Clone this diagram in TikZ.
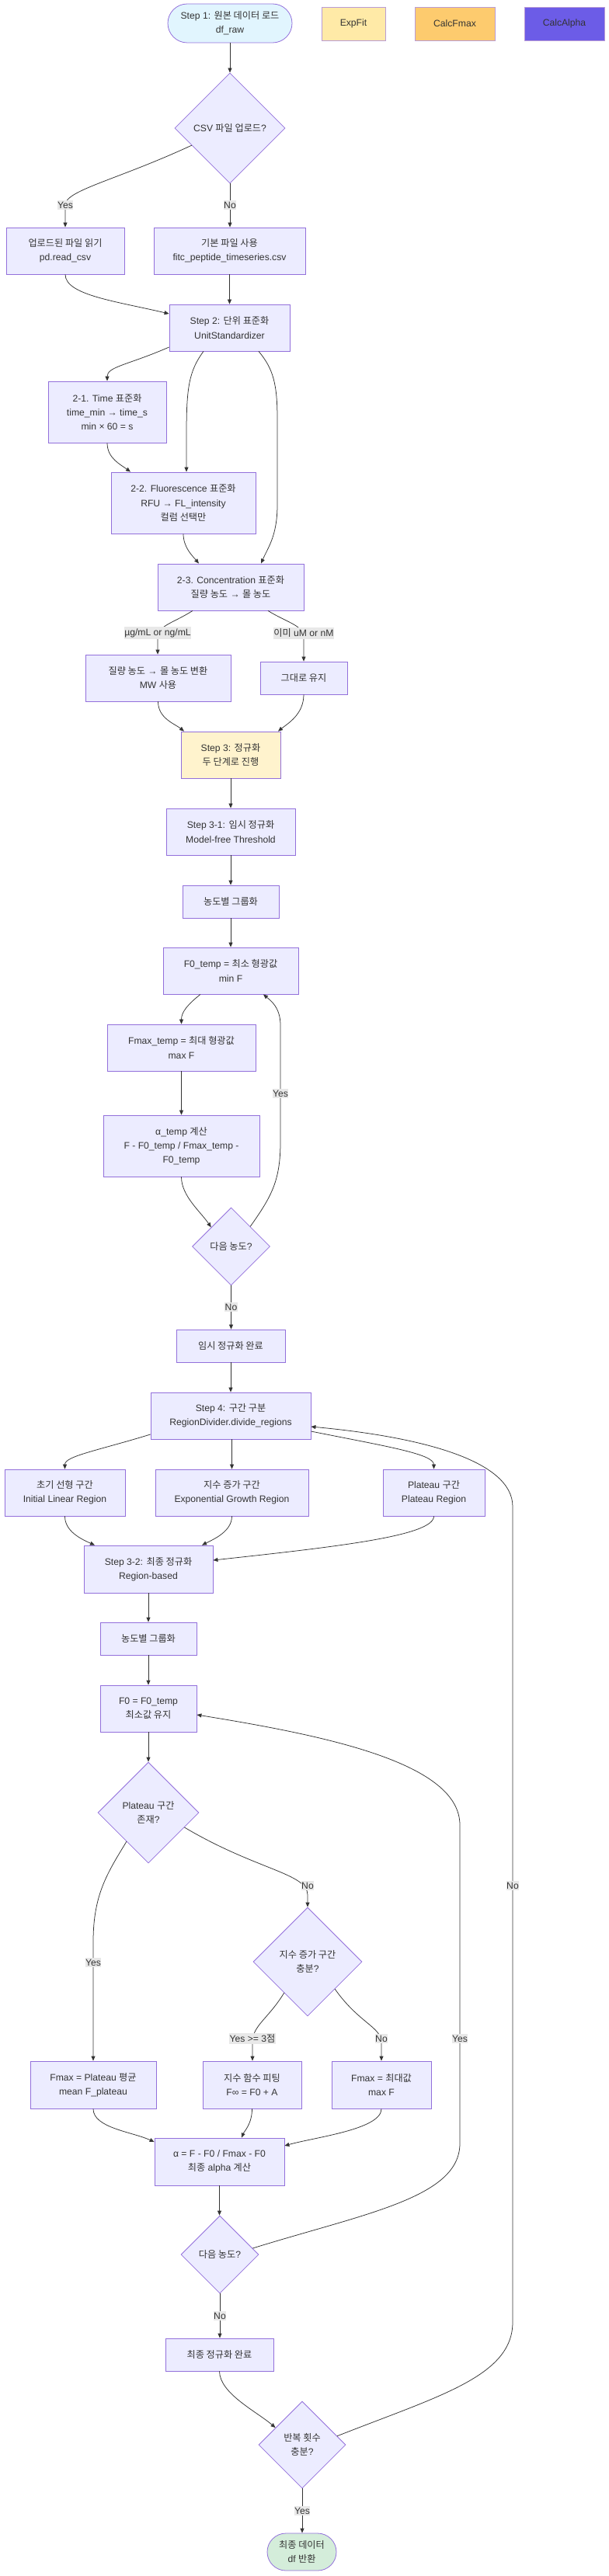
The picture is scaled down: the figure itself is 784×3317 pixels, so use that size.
\documentclass[tikz,border=0pt]{standalone}
\usepackage{fontspec}
\setmainfont{Liberation Sans}
\newfontfamily\kofont{Noto Sans CJK KR}
\newcommand\ko[1]{{\kofont #1}}
\newcommand\nf{\fontsize{12.2}{18.3}\selectfont}
\usetikzlibrary{shapes.geometric,arrows.meta,calc}
\definecolor{nf}{HTML}{ECECFF}
\definecolor{bd}{HTML}{9370DB}
\definecolor{tx}{HTML}{333333}
\definecolor{ln}{HTML}{333333}
\definecolor{lb}{HTML}{E8E8E8}
\definecolor{cstart}{HTML}{E1F5FE}
\definecolor{cend}{HTML}{D4EDDA}
\definecolor{cstepthree}{HTML}{FFF3CD}
\definecolor{cexp}{HTML}{FFEAA7}
\definecolor{cfmax}{HTML}{FDCB6E}
\definecolor{calpha}{HTML}{6C5CE7}
\definecolor{legbd}{HTML}{B99BD6}
\tikzset{
  box/.style={draw=bd, fill=nf, line width=0.8bp, text=tx, align=center, inner sep=0pt, font=\nf},
  dia/.style={diamond, aspect=1, draw=bd, fill=nf, line width=0.8bp, text=tx, align=center, inner sep=0pt, font=\nf},
  legbox/.style={box, draw=legbd, minimum height=43bp},
  edge/.style={draw=ln, line width=0.75bp, -{Triangle[length=6bp,width=5bp]}},
  lbl/.style={fill=lb, text=tx, font=\nf, inner xsep=0.5bp, inner ysep=2bp}
}
\begin{document}
\begin{tikzpicture}[x=1bp,y=1bp]
\useasboundingbox (0,0) rectangle (784,-3317);
% ---------- nodes ----------
\node[box, fill=cstart, rounded corners=25bp, minimum width=160bp, minimum height=50bp] (start) at (296,-30) {Step 1: \ko{원본 데이터 로드}\\df\_raw};
\node[legbox, fill=cexp, minimum width=82bp] (expfit) at (455,-30.5) {ExpFit};
\node[legbox, fill=cfmax, minimum width=103bp] (calcfmax) at (585.5,-30.5) {CalcFmax};
\node[legbox, fill=calpha, minimum width=103bp] (calcalpha) at (726.5,-30.5) {CalcAlpha};
\node[dia, minimum width=142bp, minimum height=142bp] (csv) at (296,-165) {CSV \ko{파일 업로드}?};
\node[box, minimum width=152bp, minimum height=60bp] (upload) at (84,-323) {\ko{업로드된 파일 읽기}\\pd.read\_csv};
\node[box, minimum width=195bp, minimum height=60bp] (default) at (295.5,-323) {\ko{기본 파일 사용}\\fitc\_peptide\_timeseries.csv};
\node[box, minimum width=155bp, minimum height=60bp] (step2) at (295.5,-422) {Step 2: \ko{단위 표준화}\\UnitStandardizer};
\node[box, minimum width=152bp, minimum height=79bp] (t21) at (138,-530.5) {2-1. Time \ko{표준화}\\time\_min → time\_s\\min × 60 = s};
\node[box, minimum width=186bp, minimum height=79bp] (t22) at (236,-647.5) {2-2. Fluorescence \ko{표준화}\\RFU → FL\_intensity\\\ko{컬럼 선택만}};
\node[box, minimum width=188bp, minimum height=60bp] (t23) at (297,-756) {2-3. Concentration \ko{표준화}\\\ko{질량 농도} → \ko{몰 농도}};
\node[box, minimum width=187bp, minimum height=60bp] (mass) at (203.5,-873) {\ko{질량 농도} → \ko{몰 농도 변환}\\MW \ko{사용}};
\node[box, minimum width=112bp, minimum height=42bp] (keep) at (391,-873) {\ko{그대로 유지}};
\node[box, fill=cstepthree, minimum width=128bp, minimum height=60bp] (step3) at (297,-972) {Step 3: \ko{정규화}\\\ko{두 단계로 진행}};
\node[box, minimum width=166bp, minimum height=60bp] (s31) at (297,-1071) {Step 3-1: \ko{임시 정규화}\\Model-free Threshold};
\node[box, minimum width=124bp, minimum height=42bp] (grp1) at (297,-1161) {\ko{농도별 그룹화}};
\node[box, minimum width=174bp, minimum height=60bp] (f0t) at (297,-1250) {F0\_temp = \ko{최소 형광값}\\min F};
\node[box, minimum width=191bp, minimum height=60bp] (fmt) at (233.5,-1349) {Fmax\_temp = \ko{최대 형광값}\\max F};
\node[box, minimum width=201bp, minimum height=79bp] (at) at (233.5,-1475.5) {α\_temp \ko{계산}\\F - F0\_temp / Fmax\_temp -\\F0\_temp};
\node[dia, minimum width=100bp, minimum height=100bp] (nx1) at (297.5,-1605) {\ko{다음 농도}?};
\node[box, minimum width=140bp, minimum height=42bp] (tmpdone) at (297,-1733) {\ko{임시 정규화 완료}};
\node[box, minimum width=206bp, minimum height=60bp] (step4) at (297,-1823) {Step 4: \ko{구간 구분}\\RegionDivider.divide\_regions};
\node[box, minimum width=155bp, minimum height=60bp] (rinit) at (83.5,-1922) {\ko{초기 선형 구간}\\Initial Linear Region};
\node[box, minimum width=197bp, minimum height=60bp] (rexp) at (298.5,-1922) {\ko{지수 증가 구간}\\Exponential Growth Region};
\node[box, minimum width=131bp, minimum height=60bp] (rplat) at (558.5,-1922) {Plateau \ko{구간}\\Plateau Region};
\node[box, minimum width=166bp, minimum height=61bp] (s32) at (191,-2020.5) {Step 3-2: \ko{최종 정규화}\\Region-based};
\node[box, minimum width=124bp, minimum height=42bp] (grp2) at (191,-2110) {\ko{농도별 그룹화}};
\node[box, minimum width=124bp, minimum height=60bp] (f0) at (191,-2200) {F0 = F0\_temp\\\ko{최소값 유지}};
\node[dia, minimum width=130bp, minimum height=130bp] (platq) at (191,-2334) {Plateau \ko{구간}\\\ko{존재}?};
\node[dia, minimum width=140bp, minimum height=140bp] (expq) at (396,-2526) {\ko{지수 증가 구간}\\\ko{충분}?};
\node[box, minimum width=162bp, minimum height=61bp] (fmp) at (120,-2684.5) {Fmax = Plateau \ko{평균}\\mean F\_plateau};
\node[box, minimum width=127bp, minimum height=61bp] (fit) at (324.5,-2684.5) {\ko{지수 함수 피팅}\\F∞ = F0 + A};
\node[box, minimum width=128bp, minimum height=61bp] (fmx) at (491,-2684.5) {Fmax = \ko{최대값}\\max F};
\node[box, minimum width=167bp, minimum height=61bp] (alpha) at (282.5,-2783.5) {α = F - F0 / Fmax - F0\\\ko{최종} alpha \ko{계산}};
\node[dia, minimum width=100bp, minimum height=100bp] (nx2) at (283,-2903) {\ko{다음 농도}?};
\node[box, minimum width=139bp, minimum height=42bp] (fin) at (282.5,-3032) {\ko{최종 정규화 완료}};
\node[dia, minimum width=112bp, minimum height=112bp] (rep) at (389,-3148) {\ko{반복 횟수}\\\ko{충분}?};
\node[box, fill=cend, rounded corners=24bp, minimum width=89bp, minimum height=48bp] (end) at (388.5,-3286) {\ko{최종 데이터}\\df \ko{반환}};
% ---------- points on diamond sides ----------
\coordinate (csvY) at ($(csv.west)!0.31!(csv.south)$);
\coordinate (nxin) at ($(nx1.west)!0.49!(nx1.north)$);
\coordinate (nxyes) at ($(nx1.north)!0.49!(nx1.east)$);
\coordinate (platY) at ($(platq.west)!0.57!(platq.south)$);
\coordinate (platN) at ($(platq.east)!0.29!(platq.south)$);
\coordinate (expY) at ($(expq.west)!0.57!(expq.south)$);
\coordinate (expN) at ($(expq.east)!0.5!(expq.south)$);
\coordinate (nxtwoyes) at ($(nx2.north)!0.84!(nx2.east)$);
\coordinate (repin) at ($(rep.west)!0.39!(rep.north)$);
\coordinate (repno) at ($(rep.north)!0.8!(rep.east)$);
% ---------- edges ----------
\draw[edge] (start.south) -- (csv.north);
\draw[edge] (csvY) .. controls (150,-232) and (84,-245) .. (84,-264) -- (upload.north);
\draw[edge] (csv.south) -- (csv.south |- default.north);
\draw[edge] (upload.south) .. controls (84,-380) and (150,-388) .. ($(step2.west)+(0,18)$);
\draw[edge] (default.south) -- (default.south |- step2.north);
\draw[edge] ($(step2.west)+(0,-25)$) .. controls (165,-470) and (138,-472) .. (t21.north);
\draw[edge] ($(step2.south)+(-33.5,0)$) .. controls (243,-478) and (240,-500) .. (240,-560) -- ($(t22.north)+(4,0)$);
\draw[edge] ($(step2.south)+(37.5,0)$) .. controls (352,-475) and (357,-495) .. (357,-540) -- (357,-650) .. controls (357,-690) and (345,-705) .. ($(t23.north)+(39,0)$);
\draw[edge] (t21.south) .. controls (138,-590) and (155,-598) .. ($(t22.north)+(-68,0)$);
\draw[edge] (t22.south) .. controls (236,-705) and (248,-716) .. ($(t23.north)+(-41,0)$);
\draw[edge] ($(t23.south)+(-49,0)$) .. controls (222,-803) and (203,-805) .. (203,-822) -- ($(mass.north)+(-0.5,0)$);
\draw[edge] ($(t23.south)+(48,0)$) .. controls (372,-803) and (391,-805) .. (391,-822) -- (keep.north);
\draw[edge] (mass.south) .. controls (203.5,-925) and (225,-932) .. ($(step3.north)+(-60,0)$);
\draw[edge] (keep.south) .. controls (391,-920) and (370,-932) .. ($(step3.north)+(61,0)$);
\draw[edge] (step3.south) -- (s31.north);
\draw[edge] (s31.south) -- (grp1.north);
\draw[edge] (grp1.south) -- (f0t.north);
\draw[edge] ($(f0t.south)+(-39,0)$) .. controls (242,-1293) and (233.5,-1303) .. (fmt.north);
\draw[edge] (fmt.south) -- (at.north);
\draw[edge] (at.south) .. controls (233.5,-1540) and (258,-1560) .. (nxin);
\draw[edge] (nxyes) .. controls (350,-1540) and (361,-1520) .. (361,-1470) -- (361,-1320) .. controls (361,-1297) and (348,-1288) .. ($(f0t.south)+(42,0)$);
\draw[edge] (nx1.south) -- (nx1.south |- tmpdone.north);
\draw[edge] (tmpdone.south) -- (step4.north);
\draw[edge] ($(step4.west)+(0,-24)$) .. controls (125,-1868) and (83.5,-1875) .. (rinit.north);
\draw[edge] ($(step4.south)+(1.5,0)$) -- (rexp.north);
\draw[edge] ($(step4.east)+(0,-20)$) .. controls (495,-1862) and (558.5,-1872) .. (rplat.north);
\draw[edge] (rinit.south) .. controls (83.5,-1972) and (105,-1982) .. ($(s32.north)+(-69,0)$);
\draw[edge] (rexp.south) .. controls (298.5,-1972) and (275,-1982) .. ($(s32.north)+(69,0)$);
\draw[edge] (rplat.south) .. controls (558.5,-1978) and (430,-1992) .. ($(s32.east)+(0,11.5)$);
\draw[edge] (s32.south) -- (grp2.north);
\draw[edge] (grp2.south) -- (f0.north);
\draw[edge] (f0.south) -- (platq.north);
\draw[edge] (platY) .. controls (138,-2412) and (120,-2440) .. (120,-2500) -- (fmp.north);
\draw[edge] (platN) .. controls (330,-2408) and (396,-2412) .. (396,-2440) -- (expq.north);
\draw[edge] (expY) .. controls (345,-2600) and (325,-2608) .. (325,-2630) -- ($(fit.north)+(0.5,0)$);
\draw[edge] (expN) .. controls (462,-2605) and (491,-2610) .. (491,-2630) -- (fmx.north);
\draw[edge] (fmp.south) .. controls (120,-2740) and (170,-2745) .. ($(alpha.west)+(0,25.5)$);
\draw[edge] (fit.south) .. controls (324.5,-2735) and (314,-2745) .. ($(alpha.north)+(28.5,0)$);
\draw[edge] (fmx.south) .. controls (491,-2742) and (405,-2752) .. ($(alpha.east)+(0,20.5)$);
\draw[edge] (alpha.south) -- (alpha.south |- nx2.north);
\draw[edge] (nxtwoyes) .. controls (470,-2850) and (592,-2830) .. (592,-2760) -- (592,-2350) .. controls (592,-2270) and (420,-2235) .. ($(f0.east)+(0,-8)$);
\draw[edge] (nx2.south) -- (nx2.south |- fin.north);
\draw[edge] (fin.south) .. controls (283,-3082) and (330,-3105) .. (repin);
\draw[edge] (repno) .. controls (565,-3085) and (660,-3060) .. (660,-2990) -- (660,-1940) .. controls (660,-1880) and (540,-1850) .. ($(step4.east)+(0,-14)$);
\draw[edge] (rep.south) -- (rep.south |- end.north);
% ---------- edge labels ----------
\node[lbl] (lyesa) at (84,-264) {Yes};
\node[lbl] (lnoa) at (296,-264) {No};
\node[lbl] (lmass) at (203,-815) {µg/mL or ng/mL};
\node[lbl] (lkeep) at (391,-815) {\ko{이미} uM or nM};
\node[lbl] (lyesb) at (361,-1408) {Yes};
\node[lbl] (lnob) at (297.5,-1683) {No};
\node[lbl] (lyesc) at (120,-2527) {Yes};
\node[lbl] (lnoc) at (396,-2428) {No};
\node[lbl] (lyesd) at (325,-2625) {Yes >= 3\ko{점}};
\node[lbl] (lnod) at (491,-2625) {No};
\node[lbl] (lyese) at (592,-2625) {Yes};
\node[lbl] (lnoe) at (660,-2428) {No};
\node[lbl] (lnof) at (283,-2982) {No};
\node[lbl] (lyesf) at (389,-3233) {Yes};
\end{tikzpicture}
\end{document}
